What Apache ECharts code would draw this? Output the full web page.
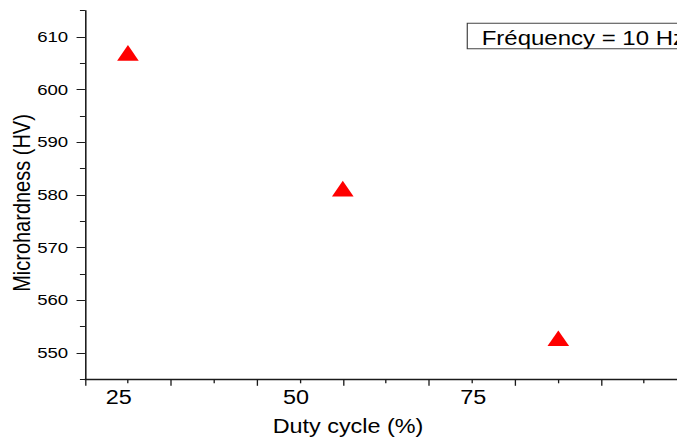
<!DOCTYPE html>
<html>
<head>
<meta charset="utf-8">
<script src="https://cdn.jsdelivr.net/npm/echarts@6/dist/echarts.min.js"></script>
<style>
  html, body { margin: 0; padding: 0; overflow: hidden; background: #fff; width: 677px; height: 441px; }
  /* the plot is laid out narrower and widened horizontally, like the exported figure */
  #chart { width: 565px; height: 441px; transform: scaleX(1.2); transform-origin: 0 0; }
</style>
</head>
<body>
<div id="chart"></div>
<script>
// Microhardness against duty cycle, pulse frequency 10 Hz
const dutyCycle = [26.3, 56.6, 87.0];          // %
const microhardness = [607.0, 581.2, 552.8];   // HV

// Axis ticks and labels
const xTickLabels = [25, 50, 75];
const yTickLabels = [550, 560, 570, 580, 590, 600, 610];
const yMinorTicks = [545, 555, 565, 575, 585, 595, 605, 615];
const xMin = 20.24, xMax = 103.88, xTickStep = 6.065;
const yMin = 545, yMax = 615;

const xMajorTicks = [], xMinorTicks = [];
for (let i = 0; xMin + i * xTickStep <= xMax; i++) {
  const v = +(xMin + i * xTickStep).toFixed(3);
  (i % 2 === 0 ? xMajorTicks : xMinorTicks).push(v);
}

const FONT = "'Liberation Sans', Arial, sans-serif";
const INK = '#1a1a1a';

const chart = echarts.init(document.getElementById('chart'), null, { renderer: 'svg' });

chart.setOption({
  animation: false,
  backgroundColor: '#fff',
  grid: { left: 70.8, right: 0, top: 10.7, bottom: 61.7 },
  xAxis: [
    {
      type: 'value', min: xMin, max: xMax, position: 'bottom',
      axisLine: { show: true, lineStyle: { color: INK, width: 1.3 } },
      axisTick: { show: true, inside: false, length: 6.5, customValues: xMajorTicks, lineStyle: { color: INK, width: 1.1 } },
      axisLabel: { show: true, customValues: xTickLabels, margin: 8, color: '#000', fontFamily: FONT, fontSize: 19.5 },
      splitLine: { show: false }
    },
    {
      type: 'value', min: xMin, max: xMax, position: 'bottom',
      axisLine: { show: false },
      axisTick: { show: true, inside: false, length: 4, customValues: xMinorTicks, lineStyle: { color: INK, width: 1.1 } },
      axisLabel: { show: false },
      splitLine: { show: false }
    }
  ],
  yAxis: [
    {
      type: 'value', min: yMin, max: yMax, position: 'left',
      axisLine: { show: true, lineStyle: { color: INK, width: 1.3 } },
      axisTick: { show: true, inside: false, length: 7, customValues: yTickLabels, lineStyle: { color: INK, width: 1 } },
      axisLabel: { show: true, customValues: yTickLabels, margin: 14, color: '#000', fontFamily: FONT, fontSize: 15.5 },
      splitLine: { show: false }
    },
    {
      type: 'value', min: yMin, max: yMax, position: 'left',
      axisLine: { show: false },
      axisTick: { show: true, inside: false, length: 4.2, customValues: yMinorTicks, lineStyle: { color: INK, width: 1 } },
      axisLabel: { show: false },
      splitLine: { show: false }
    }
  ],
  series: [{
    type: 'scatter',
    xAxisIndex: 0, yAxisIndex: 0,
    symbol: 'triangle',
    symbolSize: [18, 15.7],
    itemStyle: { color: '#ff0000', opacity: 1 },
    data: dutyCycle.map((d, i) => [d, microhardness[i]])
  }],
  graphic: [
    {
      type: 'text', x: 290, y: 427,
      style: { text: 'Duty cycle (%)', fill: '#000', font: '19.5px ' + FONT, textAlign: 'center', textVerticalAlign: 'middle' }
    },
    {
      type: 'text', x: 17.8, y: 203, rotation: Math.PI / 2,
      style: { text: 'Microhardness (HV)', fill: '#000', font: '20px ' + FONT, textAlign: 'center', textVerticalAlign: 'middle' }
    },
    {
      type: 'rect', x: 389.4, y: 23.3,
      shape: { x: 0, y: 0, width: 220, height: 25.4 },
      style: { fill: '#fff', stroke: '#444', lineWidth: 1 }
    },
    {
      type: 'text', x: 401.4, y: 37.8,
      style: { text: 'Fréquency = 10 Hz', fill: '#000', font: '20px ' + FONT, textAlign: 'left', textVerticalAlign: 'middle' }
    }
  ]
});
</script>
</body>
</html>
